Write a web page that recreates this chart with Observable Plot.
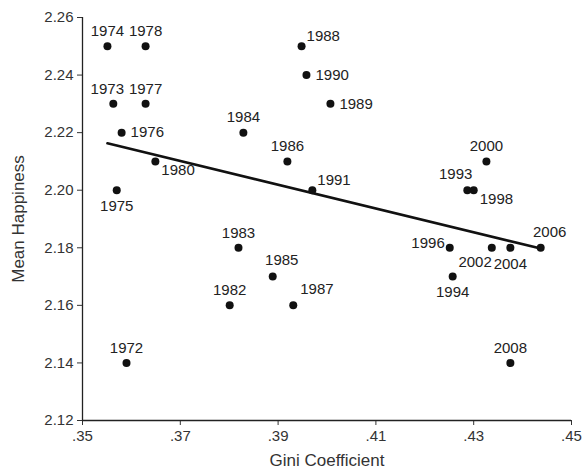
<!DOCTYPE html>
<html>
<head>
<meta charset="utf-8">
<script src="https://cdn.jsdelivr.net/npm/d3@7"></script>
<script src="https://cdn.jsdelivr.net/npm/@observablehq/plot@0.6"></script>
<style>
  body { margin: 0; background: #fff; }
  svg { font-family: "Liberation Sans", Arial, sans-serif; }
</style>
</head>
<body>
<div id="chart"></div>
<script>
const years = [1972, 1973, 1974, 1975, 1976, 1977, 1978, 1980, 1982, 1983, 1984, 1985, 1986, 1987, 1988, 1989, 1990, 1991, 1993, 1994, 1996, 1998, 2000, 2002, 2004, 2006, 2008];
const gini = [0.359, 0.3563, 0.3551, 0.357, 0.358, 0.3629, 0.3629, 0.3649, 0.3801, 0.3819, 0.3829, 0.3889, 0.3919, 0.3931, 0.3948, 0.4007, 0.3958, 0.397, 0.4287, 0.4257, 0.4251, 0.430, 0.4326, 0.4337, 0.4375, 0.4437, 0.4375];
const happiness = [2.14, 2.23, 2.25, 2.20, 2.22, 2.23, 2.25, 2.21, 2.16, 2.18, 2.22, 2.17, 2.21, 2.16, 2.25, 2.23, 2.24, 2.20, 2.20, 2.17, 2.18, 2.20, 2.21, 2.18, 2.18, 2.18, 2.14];
const labelPos = ["top", "topL", "top", "bottom", "right", "top", "top", "bottomRight", "top", "top", "top", "topR", "top", "topRightHigh", "topRight", "right", "right", "topRight", "topLeft", "bottom", "left", "bottomRight", "top", "bottomLeft", "bottom", "topR", "top"];
const xTicks = [0.35, 0.37, 0.39, 0.41, 0.43, 0.45];
const yTicks = [2.12, 2.14, 2.16, 2.18, 2.20, 2.22, 2.24, 2.26];

const data = years.map((y, i) => ({year: y, gini: gini[i], happiness: happiness[i], pos: labelPos[i]}));

const styles = {
  top: {dx: 0, dy: -15, textAnchor: "middle"},
  topL: {dx: -6, dy: -15, textAnchor: "middle"},
  topR: {dx: 9, dy: -16, textAnchor: "middle"},
  bottom: {dx: 0, dy: 16, textAnchor: "middle"},
  right: {dx: 9, dy: 0, textAnchor: "start"},
  bottomRight: {dx: 6, dy: 9, textAnchor: "start"},
  topRight: {dx: 5, dy: -10, textAnchor: "start"},
  topRightHigh: {dx: 7, dy: -16, textAnchor: "start"},
  topLeft: {dx: 5, dy: -16, textAnchor: "end"},
  left: {dx: -5, dy: -5, textAnchor: "end"},
  bottomLeft: {dx: 0, dy: 14, textAnchor: "end"}
};

const labelMarks = Object.entries(styles).map(([k, s]) =>
  Plot.text(data.filter(d => d.pos === k), {
    x: "gini", y: "happiness", text: d => String(d.year),
    dx: s.dx, dy: s.dy, textAnchor: s.textAnchor,
    fontSize: 15, fill: "#222"
  })
);

const chart = Plot.plot({
  width: 582,
  height: 470,
  marginLeft: 82,
  marginRight: 11,
  marginTop: 17,
  marginBottom: 50,
  style: {fontFamily: '"Liberation Sans", Arial, sans-serif', color: "#333", background: "#fff"},
  x: {domain: [0.35, 0.45]},
  y: {domain: [2.12, 2.26]},
  marks: [
    Plot.axisX({ticks: xTicks, tickSize: 5, tickFormat: d => d.toFixed(2).replace(/^0/, ""), fontSize: 15, tickPadding: 5, label: null}),
    Plot.axisX({ticks: [], label: "Gini Coefficient", labelAnchor: "center", labelOffset: 45, labelArrow: "none", fontSize: 17}),
    Plot.axisY({ticks: yTicks, tickSize: 5, tickFormat: d => d.toFixed(2), fontSize: 15, tickPadding: 4, label: null}),
    Plot.axisY({ticks: [], label: "Mean Happiness", labelAnchor: "center", labelOffset: 71, labelArrow: "none", fontSize: 17}),
    Plot.ruleX([0.35], {stroke: "#222", strokeWidth: 1.3}),
    Plot.ruleY([2.12], {stroke: "#222", strokeWidth: 1.3}),
    Plot.linearRegressionY(data, {x: "gini", y: "happiness", ci: 0, stroke: "#111", strokeWidth: 2.6}),
    Plot.dot(data, {x: "gini", y: "happiness", r: 4, fill: "#111", stroke: "none"}),
    ...labelMarks
  ]
});
document.getElementById("chart").appendChild(chart);
</script>
</body>
</html>
